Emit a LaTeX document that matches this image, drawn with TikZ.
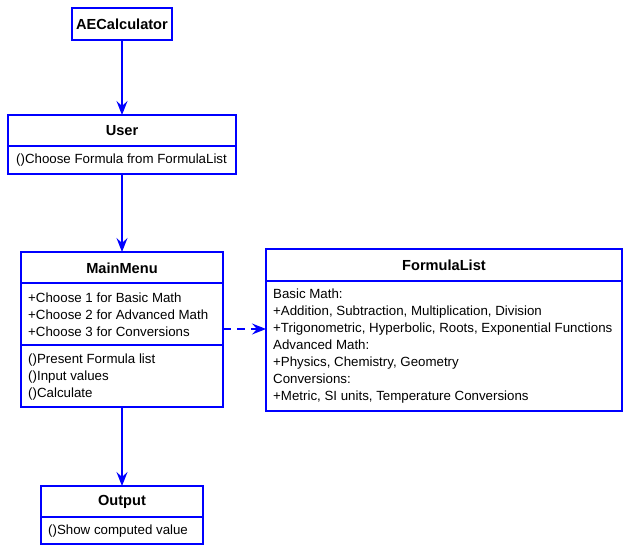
\documentclass[tikz,border=0pt]{standalone}
\usepackage{fontspec}
\setmainfont{Liberation Sans}
\usetikzlibrary{arrows.meta}
\definecolor{umlblue}{RGB}{0,0,255}
\tikzset{
  x=1pt,y=-1pt,
  box/.style={draw=umlblue,line width=1.6pt,fill=white,inner sep=0pt,outer sep=0pt,anchor=north west},
  ttl/.style={font=\fontsize{14.6}{16}\selectfont\bfseries,inner sep=0pt},
  body/.style={font=\fontsize{13.3}{17}\selectfont,align=left,anchor=west,inner sep=0pt},
  rel/.style={draw=umlblue,line width=1.1pt,-{Stealth[length=14pt,width=11pt,inset=5pt]}},
  dep/.style={rel,dash pattern=on 8pt off 6pt},
  sep/.style={draw=umlblue,line width=1.2pt}
}
\begin{document}
\begin{tikzpicture}
\useasboundingbox (0,0) rectangle (630,552);
% AECalculator
\node[box,minimum width=100pt,minimum height=32pt] (ae) at (72,8) {};
\node[ttl] (aet) at (ae.center) {AECalculator};
% User
\node[box,minimum width=228pt,minimum height=59pt] (user) at (8,115) {};
\draw[sep] (8,146) -- (236,146);
\node[ttl] (usert) at (122,131) {User};
\node[body] (userm) at (16,160.5) {()Choose Formula from FormulaList};
% MainMenu
\node[box,minimum width=202pt,minimum height=155pt] (mm) at (21,252) {};
\draw[sep] (21,283) -- (223,283);
\draw[sep] (21,345) -- (223,345);
\node[ttl] (mmt) at (122,268) {MainMenu};
\node[body] (mma) at (28,315) {+Choose 1 for Basic Math\\+Choose 2 for Advanced Math\\+Choose 3 for Conversions};
\node[body] (mmm) at (28,377) {()Present Formula list\\()Input values\\()Calculate};
% FormulaList
\node[box,minimum width=356pt,minimum height=162pt] (fl) at (266,249) {};
\draw[sep] (266,281) -- (622,281);
\node[ttl] (flt) at (444,265) {FormulaList};
\node[body] (fla) at (273,346.5) {Basic Math:\\+Addition, Subtraction, Multiplication, Division\\+Trigonometric, Hyperbolic, Roots, Exponential Functions\\Advanced Math:\\+Physics, Chemistry, Geometry\\Conversions:\\+Metric, SI units, Temperature Conversions};
% Output
\node[box,minimum width=162pt,minimum height=58pt] (out) at (41,486) {};
\draw[sep] (41,517) -- (203,517);
\node[ttl] (outt) at (122,502) {Output};
\node[body] (outm) at (48,531) {()Show computed value};
% connectors
\draw[rel] (ae.south) -- (user.north);
\draw[rel] (user.south) -- (mm.north);
\draw[rel] (mm.south) -- (out.north);
\coordinate (mmr) at (223,329);
\coordinate (fll) at (266,329);
\draw[dep] (mmr) -- (fll);
\end{tikzpicture}
\end{document}
